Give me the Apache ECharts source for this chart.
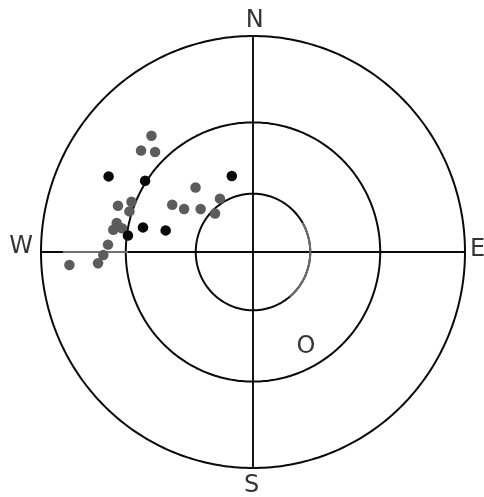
<!DOCTYPE html>
<html>
<head>
<meta charset="utf-8">
<script src="https://cdn.jsdelivr.net/npm/echarts@6/dist/echarts.min.js"></script>
<style>
  html, body { margin: 0; padding: 0; background: #fff; }
  #chart { width: 484px; height: 497px; }
</style>
</head>
<body>
<div id="chart"></div>
<script>
// Stereonet-style plot: projected poles (unit circle = primitive)
const ringRadii = [0.27, 0.6, 1];

// grey poles [x, y] in projection units
const greyPoles = [
  [-0.479, 0.538], [-0.528, 0.470], [-0.462, 0.463],
  [-0.271, 0.299], [-0.156, 0.247], [-0.381, 0.219],
  [-0.325, 0.199], [-0.247, 0.199], [-0.179, 0.178],
  [-0.637, 0.214], [-0.573, 0.233], [-0.583, 0.188],
  [-0.643, 0.134], [-0.659, 0.103], [-0.618, 0.110],
  [-0.684, 0.034], [-0.706, -0.014], [-0.731, -0.052],
  [-0.866, -0.060]
];

// black poles [x, y]
const blackPoles = [
  [-0.681, 0.350], [-0.509, 0.330], [-0.100, 0.352],
  [-0.519, 0.114], [-0.412, 0.100], [-0.590, 0.076]
];

// compass letters and the "O" marker
const compassLabels = ['N', 'S', 'W', 'E', 'O'];
const compassPos = [[0.008, 1.072], [-0.006, -1.083], [-1.094, 0.023], [1.059, 0.009], [0.25, -0.44]];

// faint grey overprint: arc on the inner ring [radius, fromDeg, toDeg]
const greyArcs = [[0.27, -50, 30]];
const greySegments = [[[-0.896, 0], [-0.59, 0]]];

function arcItem(color) {
  return function (params, api) {
    const r = api.value(0), a0 = api.value(1), a1 = api.value(2);
    const pts = [];
    for (let a = a0; a <= a1 + 0.001; a += 1) {
      const t = a * Math.PI / 180;
      pts.push(api.coord([r * Math.cos(t), r * Math.sin(t)]));
    }
    return {
      type: 'polyline',
      shape: { points: pts },
      style: { stroke: color, lineWidth: 2, fill: null }
    };
  };
}

const chart = echarts.init(document.getElementById('chart'), null, { renderer: 'canvas' });

const series = [
  {
    type: 'custom',
    name: 'rings',
    renderItem: arcItem('#0a0a0a'),
    data: ringRadii.map(r => [r, 0, 360]),
    silent: true,
    clip: false,
    z: 1
  },
  {
    type: 'custom',
    name: 'ringShade',
    renderItem: arcItem('#6e6e6e'),
    data: greyArcs,
    silent: true,
    clip: false,
    z: 2
  },
  {
    type: 'line',
    data: [[-1, 0], [1, 0]],
    symbol: 'none',
    lineStyle: { color: '#0a0a0a', width: 1.9 },
    silent: true,
    z: 1
  },
  {
    type: 'line',
    data: [[0, -1], [0, 1]],
    symbol: 'none',
    lineStyle: { color: '#0a0a0a', width: 1.9 },
    silent: true,
    z: 1
  }
];

greySegments.forEach(seg => {
  series.push({
    type: 'line',
    data: seg,
    symbol: 'none',
    lineStyle: { color: '#6e6e6e', width: 2 },
    silent: true,
    z: 2
  });
});

series.push(
  {
    type: 'scatter',
    name: 'grey',
    data: greyPoles,
    symbol: 'circle',
    symbolSize: 10.5,
    itemStyle: { color: '#5c5c5c', opacity: 1 },
    clip: false,
    z: 3
  },
  {
    type: 'scatter',
    name: 'black',
    data: blackPoles,
    symbol: 'circle',
    symbolSize: 10.5,
    itemStyle: { color: '#080808', opacity: 1 },
    clip: false,
    z: 4
  },
  {
    type: 'scatter',
    name: 'labels',
    data: compassLabels.map((t, i) => ({ name: t, value: compassPos[i] })),
    symbol: 'circle',
    symbolSize: 1,
    itemStyle: { color: 'rgba(0,0,0,0)' },
    label: {
      show: true,
      position: 'inside',
      formatter: '{b}',
      fontFamily: 'DejaVu Sans',
      fontSize: 24,
      color: '#000',
      textBorderWidth: 0
    },
    clip: false,
    silent: true,
    z: 5
  }
);

chart.setOption({
  animation: false,
  backgroundColor: '#fff',
  grid: { left: 41, top: 36, width: 424, height: 432 },
  xAxis: { type: 'value', min: -1, max: 1, show: false },
  yAxis: { type: 'value', min: -1, max: 1, show: false },
  series: series
});
</script>
</body>
</html>
